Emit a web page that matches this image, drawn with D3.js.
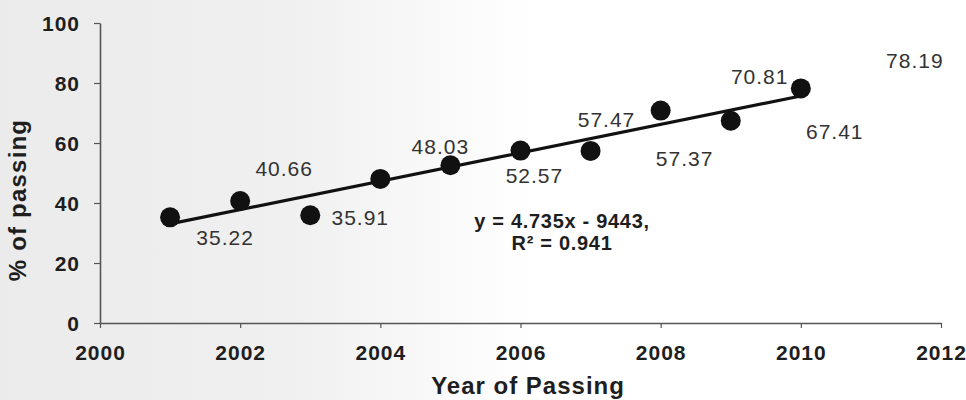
<!DOCTYPE html>
<html>
<head>
<meta charset="utf-8">
<script src="https://cdn.jsdelivr.net/npm/d3@7"></script>
<style>
  html, body { margin: 0; padding: 0; background: #fff; }
  svg { display: block; }
  text { font-family: "Liberation Sans", Arial, sans-serif; }
</style>
</head>
<body>
<svg id="chart" width="966" height="400"></svg>
<script>
// ---- data ----
const years = [2001, 2002, 2003, 2004, 2005, 2006, 2007, 2008, 2009, 2010];
const passing = [35.22, 40.66, 35.91, 48.03, 52.57, 57.47, 57.37, 70.81, 67.41, 78.19];
const labelTexts = ["35.22", "40.66", "35.91", "48.03", "52.57", "57.47", "57.37", "70.81", "67.41", "78.19"];
const xTicks = [2000, 2002, 2004, 2006, 2008, 2010, 2012];
const yTicks = [0, 20, 40, 60, 80, 100];
const equationLines = ["y = 4.735x - 9443,", "R\u00b2 = 0.941"];
const xTitle = "Year of Passing";
const yTitle = "% of passing";

// ---- layout (pixel offsets of the data labels, as placed in the original) ----
const labelOffsets = [[55, 20], [44, -33], [50, 2], [60, -32], [84, 10], [86, -31], [94, 8], [99, -34], [104, 11], [114, -28]];

const svg = d3.select("#chart");
const W = 966, H = 400;
const margin = { left: 100, top: 23, right: 25, bottom: 77 };

// background, scanned-paper look
const defs = svg.append("defs");
const grad = defs.append("linearGradient").attr("id", "bg").attr("x1", 0).attr("x2", 1).attr("y1", 0).attr("y2", 0);
grad.append("stop").attr("offset", "0%").attr("stop-color", "#ebebeb");
grad.append("stop").attr("offset", "30%").attr("stop-color", "#f0f0f0");
grad.append("stop").attr("offset", "55%").attr("stop-color", "#ffffff");
grad.append("stop").attr("offset", "100%").attr("stop-color", "#ffffff");
svg.append("rect").attr("width", W).attr("height", H).attr("fill", "url(#bg)");

const x = d3.scaleLinear().domain([2000, 2012]).range([margin.left, W - margin.right]);
const y = d3.scaleLinear().domain([0, 100]).range([H - margin.bottom, margin.top]);

// axes
const xAxis = d3.axisBottom(x).tickValues(xTicks).tickFormat(d3.format("d")).tickSizeInner(5).tickSizeOuter(0).tickPadding(12);
const yAxis = d3.axisLeft(y).tickValues(yTicks).tickSizeInner(6).tickSizeOuter(0).tickPadding(14);

const gx = svg.append("g").attr("transform", `translate(0,${y(0)})`).call(xAxis);
const gy = svg.append("g").attr("transform", `translate(${x(2000)},0)`).call(yAxis);

[gx, gy].forEach(g => {
  g.select(".domain").attr("stroke", "#555").attr("stroke-width", 1.6);
  g.selectAll(".tick line").attr("stroke", "#555").attr("stroke-width", 1.2);
  g.selectAll(".tick text")
    .attr("fill", "#1e1e1e")
    .style("font-family", "'Liberation Sans', Arial, sans-serif")
    .style("font-weight", "bold")
    .style("font-size", "21px")
    .style("letter-spacing", "1px");
});
gx.selectAll(".tick text").attr("dy", "0.95em");
gy.selectAll(".tick text").attr("dy", "0.35em");

// trend line: ordinary least squares on the data
const n = years.length;
const mx = d3.mean(years), my = d3.mean(passing);
let sxy = 0, sxx = 0;
for (let i = 0; i < n; i++) { sxy += (years[i] - mx) * (passing[i] - my); sxx += (years[i] - mx) ** 2; }
const slope = sxy / sxx, intercept = my - slope * mx;
const xr = d3.extent(years);
svg.append("line")
  .attr("x1", x(xr[0])).attr("y1", y(slope * xr[0] + intercept))
  .attr("x2", x(xr[1])).attr("y2", y(slope * xr[1] + intercept))
  .attr("stroke", "#111").attr("stroke-width", 3.2);

// points
svg.append("g").selectAll("circle")
  .data(years.map((yr, i) => ({ yr, v: passing[i] })))
  .join("circle")
  .attr("cx", d => x(d.yr))
  .attr("cy", d => y(d.v))
  .attr("r", 10)
  .attr("fill", "#111");

// data labels
svg.append("g").selectAll("text")
  .data(years.map((yr, i) => ({ yr, v: passing[i], t: labelTexts[i], o: labelOffsets[i] })))
  .join("text")
  .attr("x", d => x(d.yr) + d.o[0])
  .attr("y", d => y(d.v) + d.o[1])
  .attr("text-anchor", "middle")
  .attr("dominant-baseline", "central")
  .attr("fill", "#333")
  .style("font-size", "21px")
  .style("letter-spacing", "1px")
  .text(d => d.t);

// regression equation
svg.append("g").selectAll("text")
  .data(equationLines)
  .join("text")
  .attr("x", 562)
  .attr("y", (d, i) => 221 + i * 22)
  .attr("text-anchor", "middle")
  .attr("dominant-baseline", "central")
  .attr("fill", "#1e1e1e")
  .style("font-weight", "bold")
  .style("font-size", "20px")
  .style("letter-spacing", "0.7px")
  .text(d => d);

// axis titles
svg.append("text")
  .attr("x", 528).attr("y", 385)
  .attr("text-anchor", "middle")
  .attr("dominant-baseline", "central")
  .attr("fill", "#1e1e1e")
  .style("font-weight", "bold")
  .style("font-size", "24px")
  .style("letter-spacing", "1px")
  .text(xTitle);

svg.append("text")
  .attr("transform", "translate(17,200) rotate(-90)")
  .attr("text-anchor", "middle")
  .attr("dominant-baseline", "central")
  .attr("fill", "#1e1e1e")
  .style("font-weight", "bold")
  .style("font-size", "24px")
  .style("letter-spacing", "1.2px")
  .text(yTitle);
</script>
</body>
</html>
